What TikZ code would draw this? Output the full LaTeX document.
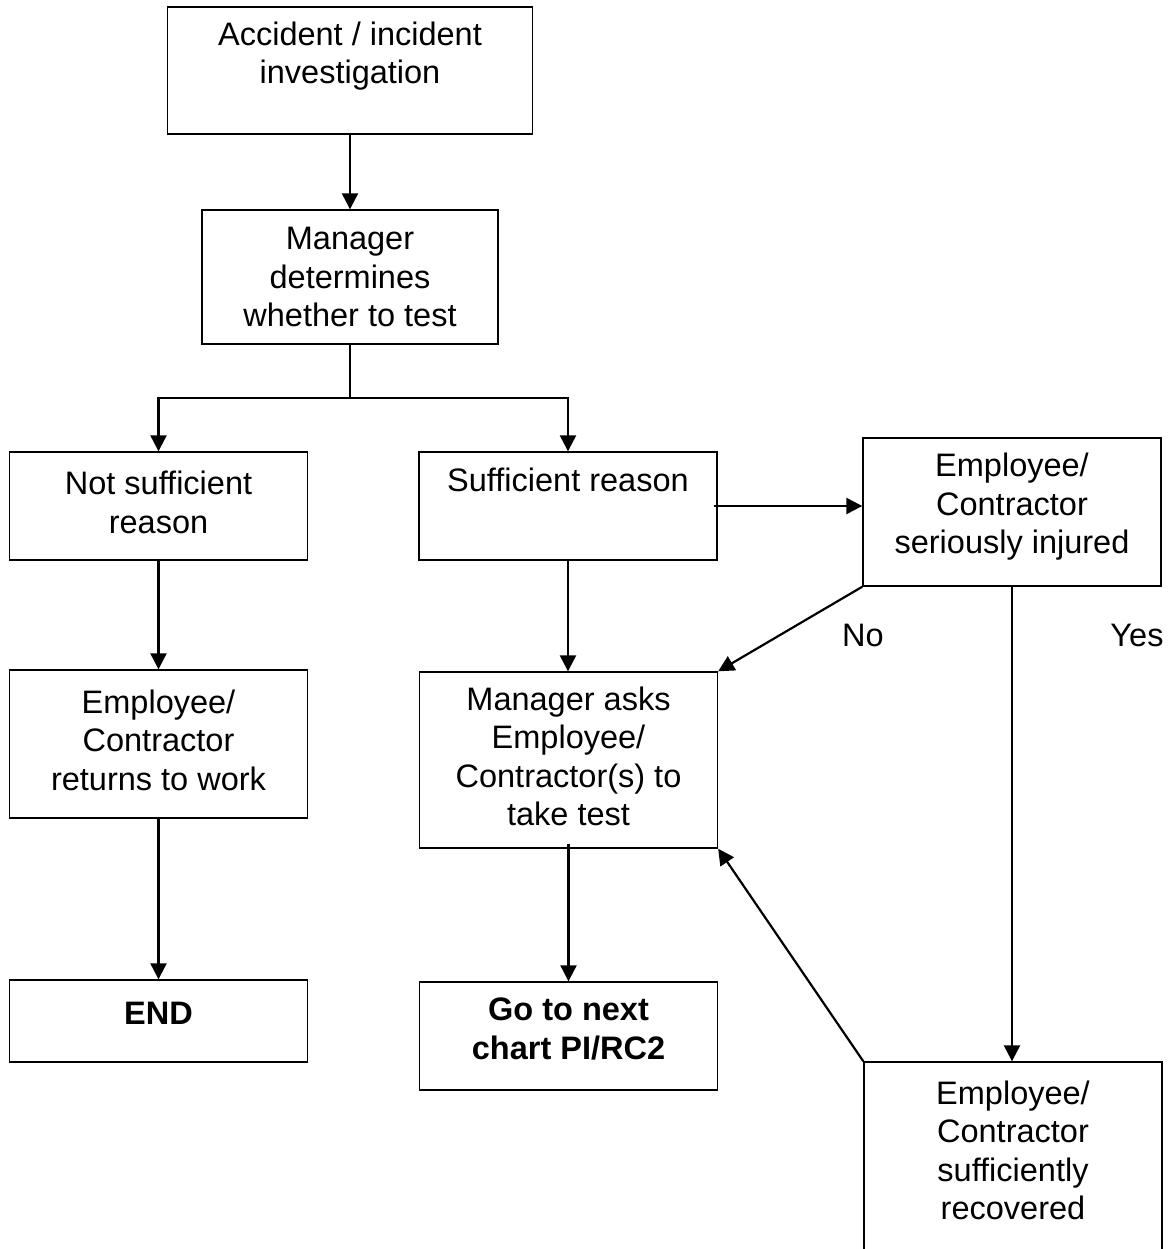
\documentclass[tikz,border=0pt]{standalone}
\usepackage{fontspec}
\setmainfont{Liberation Sans}
\usetikzlibrary{arrows.meta}

\begin{document}
\begin{tikzpicture}[x=0.02cm, y=-0.02cm,
	box/.style = {draw, line width=0.8pt, rectangle, inner sep=0pt, minimum width=5.96cm},
	every label/.style = {align=center, font=\fontsize{18.5}{21.9}\selectfont},
	arr/.style = {line width=1.25pt, -{Triangle[length=0.32cm, width=0.32cm]}},
	txt/.style = {font=\fontsize{18.5}{21.9}\selectfont}]

	\useasboundingbox (0,0) rectangle (1171,1249);
	\clip (0,0) rectangle (1171,1249);

	\node[box, minimum width=7.3cm, minimum height=2.54cm, label={[yshift=0.29cm]center:Accident / incident\\investigation}] (acc) at (350,70.5) {};
	\node[box, minimum width=5.92cm, minimum height=2.68cm, label={center:Manager\\determines\\whether to test}] (mgr) at (350,277) {};

	\node[box, minimum height=2.16cm, label={[yshift=0.07cm]center:Not sufficient\\reason}] (notsuf) at (158.5,506) {};
	\node[box, minimum height=2.16cm, label={[yshift=0.52cm]center:Sufficient reason}] (suf) at (568,506) {};
	\node[box, minimum height=2.96cm, label={[yshift=0.1cm]center:Employee/\\Contractor\\seriously injured}] (inj) at (1012,512) {};

	\node[box, minimum height=2.96cm, label={[yshift=0.08cm]center:Employee/\\Contractor\\returns to work}] (ret) at (158.5,744) {};
	\node[box, minimum height=3.52cm, label={[yshift=0.07cm]center:Manager asks\\Employee/\\Contractor(s) to\\take test}] (ask) at (568.5,760) {};

	\node[box, minimum height=1.64cm, label={[yshift=0.16cm]center:\textbf{END}}] (stop) at (158.5,1021) {};
	\node[box, minimum height=2.16cm, label={[yshift=0.14cm]center:\textbf{Go to next}\\\textbf{chart PI/RC2}}] (next) at (568.5,1036) {};
	\node[box, minimum height=4cm, label={[yshift=0.23cm]center:Employee/\\Contractor\\sufficiently\\recovered}] (rec) at (1013,1162) {};

	\node[txt] (no) at (863,635) {No};
	\node[txt] (yes) at (1137,635) {Yes};

	\draw[arr] (acc.south) -- (mgr.north);
	\coordinate (split) at (350,398);
	\draw[line width=1.25pt] (mgr.south) -- (split);
	\draw[arr] (split) -| (notsuf.north);
	\draw[arr] (split) -| (suf.north);

	\draw[arr] (notsuf.south) -- (ret.north);
	\draw[arr] (ret.south) -- (stop.north);
	\draw[arr] (suf.south) -- (suf.south |- ask.north);
	\draw[arr] ([yshift=0.1cm]ask.south) -- (next.north);

	\draw[arr] ([xshift=-0.08cm]suf.east) -- (inj.west |- suf.east);
	\draw[arr] (inj.south west) -- (ask.north east);
	\draw[arr] (inj.south) -- (inj.south |- rec.north);
	\draw[arr] (rec.north west) -- (ask.south east);
\end{tikzpicture}
\end{document}
